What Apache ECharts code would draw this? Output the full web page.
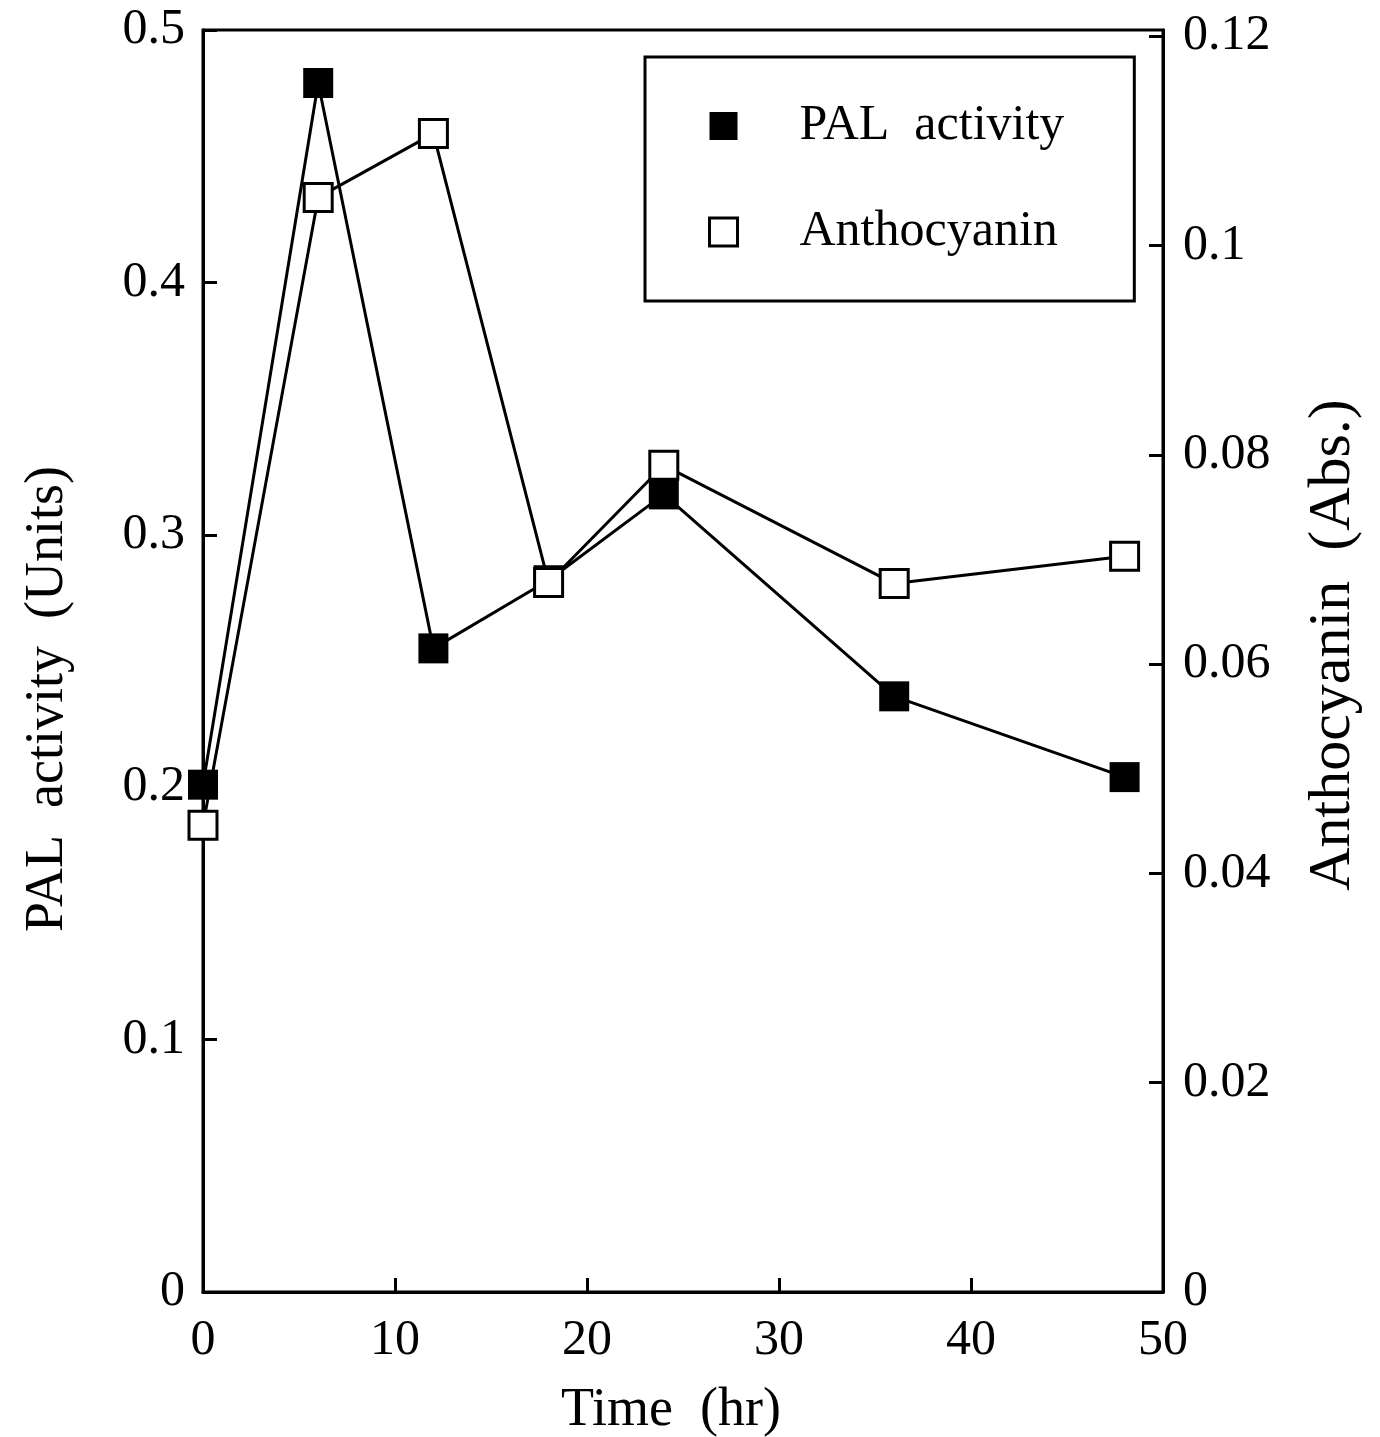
<!DOCTYPE html>
<html>
<head>
<meta charset="utf-8">
<script src="https://cdn.jsdelivr.net/npm/echarts@6/dist/echarts.min.js"></script>
<style>
  html, body { margin: 0; padding: 0; background: #fff; }
  #chart { width: 1380px; height: 1437px; }
</style>
</head>
<body>
<div id="chart"></div>
<script>
// time points (hr)
var timeHr = [0, 6, 12, 18, 24, 36, 48]
// PAL activity (Units), left axis
var palActivity = [0.201, 0.479, 0.255, 0.282, 0.316, 0.236, 0.204]
// Anthocyanin (Abs.), right axis
var anthocyanin = [0.0446, 0.1046, 0.1107, 0.0678, 0.0790, 0.0677, 0.0703]

var FONT = 'Liberation Serif'

function pairs(xs, ys) {
    var out = []
    for (var i = 0; i < xs.length; i++) {
        out.push([xs[i], ys[i]])
    }
    return out
}

var axisCommon = {
    axisLine: { show: true, lineStyle: { color: '#000', width: 3 } },
    axisTick: { show: true, inside: true, length: 14, lineStyle: { color: '#000', width: 3 } },
    splitLine: { show: false }
}

var chart = echarts.init(document.getElementById('chart'))
var option = {
    backgroundColor: '#fff',
    animation: false,
    grid: {
        left: 203, right: 217, top: 30, bottom: 145,
        outerBoundsMode: 'none',
        show: true, borderColor: '#000', borderWidth: 3
    },
    legend: {
        orient: 'vertical',
        left: 645,
        top: 57,
        padding: [44, 70, 44, 63],
        itemGap: 56,
        itemWidth: 28,
        itemHeight: 28,
        borderColor: '#000',
        borderWidth: 3,
        textStyle: {
            fontFamily: FONT, fontSize: 50, color: '#000',
            lineHeight: 50, padding: [0, 0, 0, 57]
        },
        data: [
            { name: 'PAL  activity', icon: 'rect', itemStyle: { color: '#000', borderWidth: 0 } },
            { name: 'Anthocyanin', icon: 'rect', itemStyle: { color: '#fff', borderColor: '#000', borderWidth: 3 } }
        ]
    },
    xAxis: Object.assign({}, axisCommon, {
        type: 'value',
        min: 0, max: 50, interval: 10,
        name: 'Time  (hr)',
        nameLocation: 'middle',
        nameGap: 92,
        nameTextStyle: { fontFamily: FONT, fontSize: 54, color: '#000', padding: [0, 24, 0, 0] },
        axisLabel: { fontFamily: FONT, fontSize: 50, color: '#000', margin: 24 }
    }),
    yAxis: [
        Object.assign({}, axisCommon, {
            type: 'value',
            position: 'left',
            min: 0, max: 0.5, interval: 0.1,
            name: 'PAL  activity  (Units)',
            nameLocation: 'middle',
            nameRotate: 90,
            nameGap: 128,
            nameTextStyle: { fontFamily: FONT, fontSize: 54, color: '#000', padding: [0, 76, 0, 0] },
            axisLabel: { fontFamily: FONT, fontSize: 50, color: '#000', margin: 18 }
        }),
        Object.assign({}, axisCommon, {
            type: 'value',
            position: 'right',
            min: 0, max: 0.1206, interval: 0.02,
            name: 'Anthocyanin  (Abs.)',
            nameLocation: 'middle',
            nameRotate: 90,
            nameGap: 140,
            nameTextStyle: { fontFamily: FONT, fontSize: 60, color: '#000', padding: [0, 0, 0, 32] },
            axisLabel: { fontFamily: FONT, fontSize: 50, color: '#000', margin: 20, showMaxLabel: false }
        })
    ],
    series: [
        {
            name: 'PAL  activity',
            type: 'line',
            yAxisIndex: 0,
            data: pairs(timeHr, palActivity),
            symbol: 'rect',
            symbolSize: 30,
            itemStyle: { color: '#000' },
            lineStyle: { color: '#000', width: 3 },
            z: 2
        },
        {
            name: 'Anthocyanin',
            type: 'line',
            yAxisIndex: 1,
            data: pairs(timeHr, anthocyanin),
            symbol: 'rect',
            symbolSize: 28,
            itemStyle: { color: '#fff', borderColor: '#000', borderWidth: 3 },
            lineStyle: { color: '#000', width: 3 },
            z: 3
        }
    ]
}
chart.setOption(option)
</script>
</body>
</html>
